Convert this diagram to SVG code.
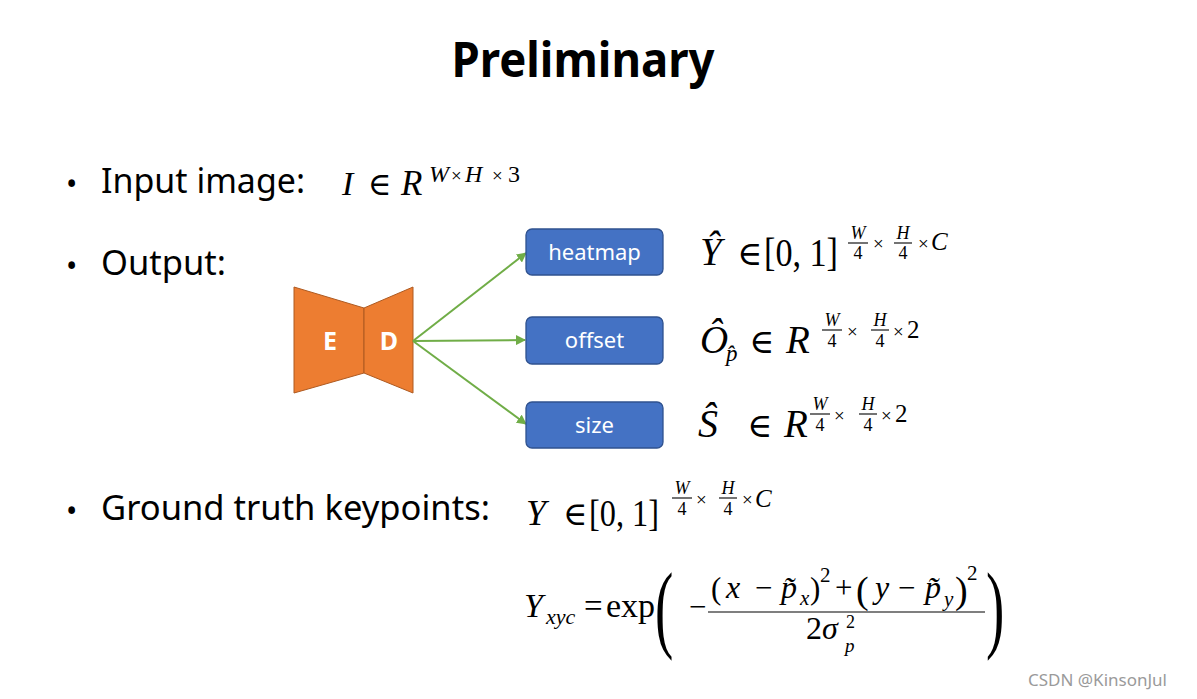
<svg xmlns="http://www.w3.org/2000/svg" width="1197" height="699" viewBox="0 0 1197 699">
<defs>
<style>
.t{font-family:"Noto Sans","Open Sans","Liberation Sans",sans-serif;fill:#000}
.m{font-family:"Liberation Serif","DejaVu Serif",serif;fill:#000}
.i{font-style:italic}
.lbl{font-family:"Noto Sans","Open Sans","Liberation Sans",sans-serif;fill:#fff;font-size:22px;text-anchor:middle}
.box{fill:#4472C4;stroke:#2F528F;stroke-width:1.3}
.conn{stroke:#70AD47;stroke-width:2;fill:none;marker-end:url(#ah)}
.bar{stroke:#000;stroke-width:1.1}
.fr{font-size:18px;text-anchor:middle}
</style>
<marker id="ah" viewBox="0 0 10 10" refX="9" refY="5" markerWidth="5" markerHeight="5" orient="auto" markerUnits="strokeWidth">
<path d="M0,0 L10,5 L0,10 z" fill="#70AD47"/>
</marker>
</defs>
<rect width="1197" height="699" fill="#fff"/>

<g id="title"><text class="t" x="583" y="77" font-size="48" font-weight="bold" text-anchor="middle" textLength="263" lengthAdjust="spacingAndGlyphs">Preliminary</text></g>

<g id="bullets">
<text class="t" x="66" y="195" font-size="30">•</text>
<text class="t" x="101" y="193" font-size="34" textLength="204" lengthAdjust="spacingAndGlyphs">Input image:</text>
<text class="t" x="66" y="277" font-size="30">•</text>
<text class="t" x="101" y="275" font-size="34" textLength="125" lengthAdjust="spacingAndGlyphs">Output:</text>
<text class="t" x="66" y="522" font-size="30">•</text>
<text class="t" x="101" y="520" font-size="34" textLength="389" lengthAdjust="spacingAndGlyphs">Ground truth keypoints:</text>
</g>

<g id="input-eq">
<text class="m i" x="342" y="195" font-size="34">I</text>
<text class="m" x="368" y="195" font-size="32">∈</text>
<text class="m i" x="401" y="195" font-size="35">R</text>
<text class="m i" x="429" y="182" font-size="24">W</text>
<text class="m" x="451" y="182" font-size="19">×</text>
<text class="m i" x="465" y="182" font-size="24">H</text>
<text class="m" x="492" y="182" font-size="19">×</text>
<text class="m" x="508" y="182" font-size="24">3</text>
</g>

<g id="encoder-decoder">
<polygon points="294,287 364,308 364,373 294,393" fill="#ED7D31" stroke="#AE5A21" stroke-width="1"/>
<polygon points="364,308 413,287 413,393 364,373" fill="#ED7D31" stroke="#AE5A21" stroke-width="1"/>
<text x="330" y="350" font-family="Noto Sans,Open Sans,sans-serif" font-weight="bold" font-size="25" fill="#fff" text-anchor="middle">E</text>
<text x="389" y="350" font-family="Noto Sans,Open Sans,sans-serif" font-weight="bold" font-size="25" fill="#fff" text-anchor="middle">D</text>
</g>

<g id="connectors">
<line class="conn" x1="413" y1="341" x2="526" y2="253"/>
<line class="conn" x1="413" y1="341" x2="525" y2="340"/>
<line class="conn" x1="413" y1="341" x2="526" y2="424"/>
</g>

<g id="heatmap"><rect class="box" x="526" y="229" width="137" height="46" rx="6"/><text class="lbl" x="594.5" y="260">heatmap</text></g>
<g id="offset"><rect class="box" x="526" y="317" width="137" height="47" rx="6"/><text class="lbl" x="594.5" y="348">offset</text></g>
<g id="size"><rect class="box" x="526" y="402" width="137" height="46" rx="6"/><text class="lbl" x="594.5" y="433">size</text></g>

<g id="eq-heatmap">
<text class="m i" x="700" y="265" font-size="39">Ŷ</text>
<text class="m" x="737" y="265" font-size="34">∈</text>
<text class="m" x="764" y="266" font-size="40" textLength="74" lengthAdjust="spacingAndGlyphs">[0, 1]</text>
<text class="m i fr" x="858" y="239">W</text>
<line class="bar" x1="848" y1="243" x2="868" y2="243"/>
<text class="m fr" x="858" y="259">4</text>
<text class="m" x="873" y="250" font-size="19">×</text>
<text class="m i fr" x="903" y="239">H</text>
<line class="bar" x1="894" y1="243" x2="912" y2="243"/>
<text class="m fr" x="903" y="259">4</text>
<text class="m" x="918" y="250" font-size="19">×</text>
<text class="m i" x="931" y="250" font-size="25">C</text>
</g>

<g id="eq-offset">
<text class="m i" x="700" y="353" font-size="39">Ô</text>
<text class="m i" x="726" y="361" font-size="23">p̂</text>
<text class="m" x="749" y="353" font-size="34">∈</text>
<text class="m i" x="786" y="353" font-size="39">R</text>
<text class="m i fr" x="832" y="326">W</text>
<line class="bar" x1="822" y1="330" x2="842" y2="330"/>
<text class="m fr" x="832" y="347">4</text>
<text class="m" x="847" y="338" font-size="19">×</text>
<text class="m i fr" x="880" y="326">H</text>
<line class="bar" x1="871" y1="330" x2="889" y2="330"/>
<text class="m fr" x="880" y="347">4</text>
<text class="m" x="893" y="338" font-size="19">×</text>
<text class="m" x="907" y="338" font-size="25">2</text>
</g>

<g id="eq-size">
<text class="m i" x="698" y="437" font-size="40">Ŝ</text>
<text class="m" x="747" y="437" font-size="34">∈</text>
<text class="m i" x="784" y="437" font-size="39">R</text>
<text class="m i fr" x="820" y="410">W</text>
<line class="bar" x1="810" y1="414" x2="830" y2="414"/>
<text class="m fr" x="820" y="431">4</text>
<text class="m" x="834" y="422" font-size="19">×</text>
<text class="m i fr" x="868" y="410">H</text>
<line class="bar" x1="859" y1="414" x2="877" y2="414"/>
<text class="m fr" x="868" y="431">4</text>
<text class="m" x="881" y="422" font-size="19">×</text>
<text class="m" x="895" y="422" font-size="25">2</text>
</g>

<g id="eq-gt">
<text class="m i" x="526" y="525" font-size="36">Y</text>
<text class="m" x="563" y="525" font-size="33">∈</text>
<text class="m" x="589" y="526" font-size="38" textLength="70" lengthAdjust="spacingAndGlyphs">[0, 1]</text>
<text class="m i fr" x="682" y="494">W</text>
<line class="bar" x1="672" y1="498" x2="692" y2="498"/>
<text class="m fr" x="682" y="515">4</text>
<text class="m" x="696" y="506" font-size="19">×</text>
<text class="m i fr" x="728" y="494">H</text>
<line class="bar" x1="719" y1="498" x2="737" y2="498"/>
<text class="m fr" x="728" y="515">4</text>
<text class="m" x="742" y="506" font-size="19">×</text>
<text class="m i" x="755" y="507" font-size="25">C</text>
</g>

<g id="eq-gauss">
<text class="m i" x="524" y="617" font-size="34">Y</text>
<text class="m i" x="546" y="624" font-size="22">xyc</text>
<text class="m" x="584" y="617" font-size="33">=</text>
<text class="m" x="606" y="617" font-size="34">exp</text>
<text class="m" transform="translate(655,640) scale(1.25,2.2)" font-size="44">(</text>
<text class="m" x="689" y="617" font-size="31">−</text>
<text class="m" x="711" y="599" font-size="31">(</text>
<text class="m i" x="726" y="598" font-size="32">x</text>
<text class="m" x="755" y="598" font-size="31">−</text>
<text class="m i" x="781" y="598" font-size="32">p̃</text>
<text class="m i" x="800" y="605" font-size="21">x</text>
<text class="m" x="810" y="599" font-size="31">)</text>
<text class="m" x="820" y="582" font-size="21">2</text>
<text class="m" x="835" y="598" font-size="31">+</text>
<text class="m" x="856" y="603" font-size="38">(</text>
<text class="m i" x="875" y="598" font-size="32">y</text>
<text class="m" x="898" y="598" font-size="31">−</text>
<text class="m i" x="925" y="598" font-size="32">p̃</text>
<text class="m i" x="944" y="606" font-size="21">y</text>
<text class="m" x="955" y="603" font-size="38">)</text>
<text class="m" x="967" y="580" font-size="21">2</text>
<line class="bar" x1="708" y1="612" x2="985" y2="612" stroke-width="1.5"/>
<text class="m" x="806" y="639" font-size="32">2</text>
<text class="m i" x="822" y="639" font-size="32">σ</text>
<text class="m" x="846" y="628" font-size="18">2</text>
<text class="m i" x="845" y="652" font-size="19">p</text>
<text class="m" transform="translate(986,640) scale(1.25,2.2)" font-size="44">)</text>
</g>

<g id="watermark"><text x="1028" y="686" font-family="Noto Sans,Open Sans,sans-serif" font-size="17" fill="#9a9a9a">CSDN @KinsonJul</text></g>
</svg>
